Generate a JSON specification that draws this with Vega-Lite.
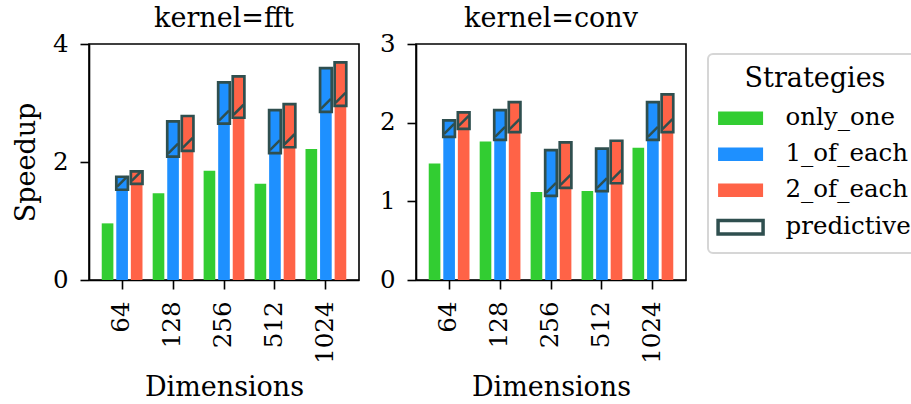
{
  "$schema": "https://vega.github.io/schema/vega-lite/v6.json",
  "padding": {"left": 11, "top": 4, "right": 0, "bottom": 0},
  "background": "white",
  "config": {
    "font": "DejaVu Serif",
    "view": {"stroke": "black", "strokeWidth": 1.6},
    "axis": {
      "labelFont": "DejaVu Serif", "titleFont": "DejaVu Serif",
      "labelFontSize": 24.5, "titleFontSize": 27, "titleFontWeight": "normal",
      "labelColor": "black", "titleColor": "black",
      "domainColor": "black", "tickColor": "black",
      "domainWidth": 1.6, "tickWidth": 1.6, "tickSize": 9, "labelPadding": 12,
      "grid": false
    },
    "concat": {"spacing": 18},
    "legend": {
      "orient": "none", "legendX": 619, "legendY": 10, "padding": 12,
      "strokeColor": "#d6d6d6", "strokeWidth": 2, "cornerRadius": 5,
      "titleFont": "DejaVu Serif", "titleFontSize": 27, "titleFontWeight": "normal", "titleColor": "black", "titleAnchor": "middle", "titlePadding": 13,
      "labelFont": "DejaVu Serif", "labelFontSize": 24.5, "labelColor": "black", "labelOffset": 41,
      "symbolType": "M-0.63,-0.3H1.37V0.3H-0.63Z", "symbolSize": 2025, "symbolStrokeWidth": 0, "symbolOpacity": 1,
      "rowPadding": 11
    }
  },
  "datasets": {
    "d": [
      {"kernel": "fft", "dim": "64", "strategy": "only_one", "value": 0.96, "predictive": null},
      {"kernel": "fft", "dim": "64", "strategy": "1_of_each", "value": 1.53, "predictive": 1.75},
      {"kernel": "fft", "dim": "64", "strategy": "2_of_each", "value": 1.63, "predictive": 1.84},
      {"kernel": "fft", "dim": "128", "strategy": "only_one", "value": 1.47, "predictive": null},
      {"kernel": "fft", "dim": "128", "strategy": "1_of_each", "value": 2.09, "predictive": 2.69},
      {"kernel": "fft", "dim": "128", "strategy": "2_of_each", "value": 2.19, "predictive": 2.78},
      {"kernel": "fft", "dim": "256", "strategy": "only_one", "value": 1.85, "predictive": null},
      {"kernel": "fft", "dim": "256", "strategy": "1_of_each", "value": 2.65, "predictive": 3.35},
      {"kernel": "fft", "dim": "256", "strategy": "2_of_each", "value": 2.75, "predictive": 3.45},
      {"kernel": "fft", "dim": "512", "strategy": "only_one", "value": 1.63, "predictive": null},
      {"kernel": "fft", "dim": "512", "strategy": "1_of_each", "value": 2.15, "predictive": 2.88},
      {"kernel": "fft", "dim": "512", "strategy": "2_of_each", "value": 2.25, "predictive": 2.98},
      {"kernel": "fft", "dim": "1024", "strategy": "only_one", "value": 2.22, "predictive": null},
      {"kernel": "fft", "dim": "1024", "strategy": "1_of_each", "value": 2.85, "predictive": 3.59},
      {"kernel": "fft", "dim": "1024", "strategy": "2_of_each", "value": 2.95, "predictive": 3.69},
      {"kernel": "conv", "dim": "64", "strategy": "only_one", "value": 1.48, "predictive": null},
      {"kernel": "conv", "dim": "64", "strategy": "1_of_each", "value": 1.82, "predictive": 2.03},
      {"kernel": "conv", "dim": "64", "strategy": "2_of_each", "value": 1.92, "predictive": 2.13},
      {"kernel": "conv", "dim": "128", "strategy": "only_one", "value": 1.76, "predictive": null},
      {"kernel": "conv", "dim": "128", "strategy": "1_of_each", "value": 1.78, "predictive": 2.16},
      {"kernel": "conv", "dim": "128", "strategy": "2_of_each", "value": 1.88, "predictive": 2.26},
      {"kernel": "conv", "dim": "256", "strategy": "only_one", "value": 1.12, "predictive": null},
      {"kernel": "conv", "dim": "256", "strategy": "1_of_each", "value": 1.07, "predictive": 1.65},
      {"kernel": "conv", "dim": "256", "strategy": "2_of_each", "value": 1.17, "predictive": 1.75},
      {"kernel": "conv", "dim": "512", "strategy": "only_one", "value": 1.13, "predictive": null},
      {"kernel": "conv", "dim": "512", "strategy": "1_of_each", "value": 1.13, "predictive": 1.67},
      {"kernel": "conv", "dim": "512", "strategy": "2_of_each", "value": 1.23, "predictive": 1.77},
      {"kernel": "conv", "dim": "1024", "strategy": "only_one", "value": 1.68, "predictive": null},
      {"kernel": "conv", "dim": "1024", "strategy": "1_of_each", "value": 1.78, "predictive": 2.26},
      {"kernel": "conv", "dim": "1024", "strategy": "2_of_each", "value": 1.88, "predictive": 2.36}
    ]
  },
  "resolve": {"scale": {"y": "independent", "x": "independent", "xOffset": "independent", "color": "shared"}, "legend": {"color": "shared"}},
  "hconcat": [
    {
      "width": 270, "height": 236,
      "title": {"text": "kernel=fft", "font": "DejaVu Serif", "fontSize": 27, "fontWeight": "normal", "color": "black", "frame": "group", "anchor": "middle", "offset": -2},
      "data": {"name": "d"},
      "transform": [{"filter": "datum.kernel === 'fft'"}],
      "encoding": {
        "x": {"field": "dim", "type": "nominal", "sort": ["64", "128", "256", "512", "1024"], "scale": {"paddingInner": 0.2, "paddingOuter": 0.25}, "axis": {"title": "Dimensions", "labelAngle": -90, "titlePadding": 11}},
        "xOffset": {"field": "strategy", "type": "nominal", "sort": ["only_one", "1_of_each", "2_of_each"], "scale": {"paddingInner": 0.2, "paddingOuter": 0}},
        "y": {"field": "value", "type": "quantitative", "scale": {"domain": [0, 4], "nice": false}, "axis": {"title": "Speedup", "values": [0, 2, 4], "titlePadding": 12}}
      },
      "layer": [
        {"mark": {"type": "bar"}, "encoding": {"color": {"field": "strategy", "type": "nominal", "scale": {"domain": ["only_one", "1_of_each", "2_of_each", "predictive"], "range": ["#32CD32", "#1E90FF", "#FF6347", "#FFFFFF"]}, "legend": {"title": "Strategies", "titleFont": "DejaVu Serif", "labelFont": "DejaVu Serif", "encode": {"symbols": {"update": {"stroke": {"signal": "datum.value === 'predictive' ? '#2F4F4F' : 'transparent'"}, "strokeWidth": {"signal": "datum.value === 'predictive' ? 3.5 : 0"}}}}}}}},
        {"transform": [{"filter": "datum.predictive != null"}], "mark": {"type": "bar", "stroke": "#2F4F4F", "strokeWidth": 2.7}, "encoding": {"y2": {"field": "predictive"}, "color": {"field": "strategy", "type": "nominal"}}},
        {"transform": [{"filter": "datum.predictive != null"}], "mark": {"type": "point", "shape": "M-1,1L1,-1", "size": 100, "filled": false, "stroke": "#2F4F4F", "strokeWidth": 2.5, "opacity": 1, "yOffset": -8}, "encoding": {}}
      ]
    },
    {
      "width": 270, "height": 236,
      "title": {"text": "kernel=conv", "font": "DejaVu Serif", "fontSize": 27, "fontWeight": "normal", "color": "black", "frame": "group", "anchor": "middle", "offset": -2},
      "data": {"name": "d"},
      "transform": [{"filter": "datum.kernel === 'conv'"}],
      "encoding": {
        "x": {"field": "dim", "type": "nominal", "sort": ["64", "128", "256", "512", "1024"], "scale": {"paddingInner": 0.2, "paddingOuter": 0.25}, "axis": {"title": "Dimensions", "labelAngle": -90, "titlePadding": 11}},
        "xOffset": {"field": "strategy", "type": "nominal", "sort": ["only_one", "1_of_each", "2_of_each"], "scale": {"paddingInner": 0.2, "paddingOuter": 0}},
        "y": {"field": "value", "type": "quantitative", "scale": {"domain": [0, 3], "nice": false}, "axis": {"title": null, "values": [0, 1, 2, 3]}}
      },
      "layer": [
        {"mark": {"type": "bar"}, "encoding": {"color": {"field": "strategy", "type": "nominal", "scale": {"domain": ["only_one", "1_of_each", "2_of_each", "predictive"], "range": ["#32CD32", "#1E90FF", "#FF6347", "#FFFFFF"]}}}},
        {"transform": [{"filter": "datum.predictive != null"}], "mark": {"type": "bar", "stroke": "#2F4F4F", "strokeWidth": 2.7}, "encoding": {"y2": {"field": "predictive"}, "color": {"field": "strategy", "type": "nominal"}}},
        {"transform": [{"filter": "datum.predictive != null"}], "mark": {"type": "point", "shape": "M-1,1L1,-1", "size": 100, "filled": false, "stroke": "#2F4F4F", "strokeWidth": 2.5, "opacity": 1, "yOffset": -8}, "encoding": {}}
      ]
    }
  ]
}
